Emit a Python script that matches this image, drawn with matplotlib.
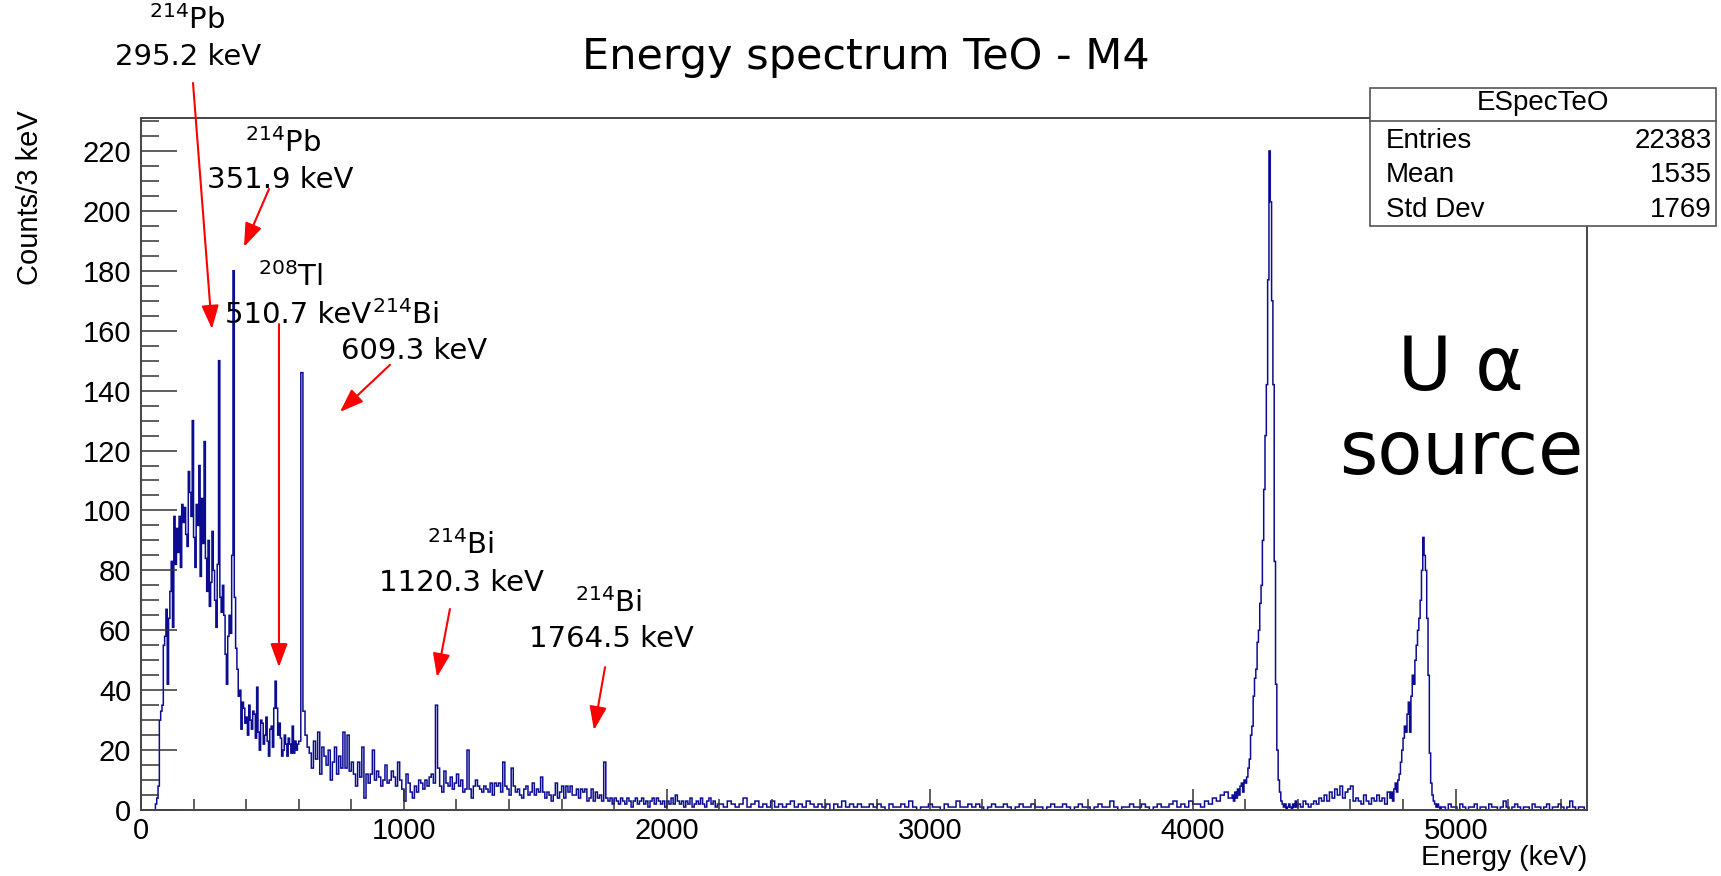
import numpy as np
import matplotlib
matplotlib.use("Agg")
import matplotlib.pyplot as plt
from matplotlib.patches import Rectangle
from matplotlib.lines import Line2D
from matplotlib.ticker import MultipleLocator

plt.rcParams['font.family'] = ['Liberation Sans', 'DejaVu Sans']

# Counts per 3 keV. Each block covers an energy range
# (keV) split into equal bins, finer where the spectrum changes quickly.
counts_0_600 = [
    0, 0, 0, 0, 0, 0, 0, 0, 0, 0, 0, 2, 4, 8, 30, 33, 35, 55, 58, 67,
    42, 64, 73, 83, 61, 98, 82, 94, 86, 98, 81, 102, 96, 101, 92, 88, 113, 106, 98, 130,
    91, 81, 102, 95, 115, 78, 104, 89, 123, 84, 73, 90, 68, 76, 93, 80, 70, 61, 82, 150,
    71, 66, 75, 65, 52, 42, 58, 65, 59, 85, 180, 71, 54, 47, 38, 40, 27, 36, 34, 29,
    31, 25, 35, 30, 27, 33, 32, 24, 41, 26, 20, 30, 29, 22, 25, 31, 23, 18, 27, 28,
    21, 34, 43, 34, 25, 29, 24, 18, 20, 25, 22, 18, 24, 22, 19, 28, 19, 23, 20, 22,
]
counts_600_2200 = [
    23, 146, 33, 25, 21, 19, 14, 23, 17, 26, 12, 21, 18, 15, 20, 10, 16, 21, 12, 18,
    14, 26, 14, 25, 13, 16, 12, 8, 16, 11, 21, 4, 12, 9, 12, 20, 10, 13, 11, 8,
    10, 15, 9, 10, 13, 11, 8, 16, 10, 7, 3, 12, 9, 6, 4, 8, 6, 10, 9, 7,
    10, 8, 11, 12, 9, 35, 14, 8, 6, 13, 9, 8, 11, 7, 9, 12, 8, 10, 6, 7,
    20, 7, 4, 8, 10, 8, 7, 6, 8, 7, 6, 9, 5, 9, 8, 9, 6, 16, 8, 7,
    5, 14, 8, 6, 7, 5, 4, 7, 8, 5, 6, 9, 5, 7, 6, 11, 6, 4, 6, 5,
    3, 5, 9, 4, 6, 8, 4, 8, 6, 8, 5, 5, 7, 4, 7, 6, 7, 3, 4, 7,
    3, 6, 4, 5, 3, 16, 4, 3, 4, 2, 4, 3, 2, 4, 3, 2, 4, 3, 1, 3,
    4, 2, 3, 4, 2, 3, 1, 3, 4, 2, 4, 3, 2, 3, 1, 3, 2, 4, 2, 5,
    3, 2, 3, 1, 3, 2, 4, 1, 2, 3, 2, 4, 2, 1, 3, 4, 2, 3, 1, 2,
]
counts_2200_4150 = [
    2, 1, 3, 2, 1, 2, 4, 1, 2, 3, 1, 2, 1,
    3, 1, 2, 1, 2, 3, 1, 2, 1, 3, 2, 1, 2,
    1, 2, 0, 2, 1, 3, 1, 2, 1, 2, 1, 1, 2,
    1, 2, 1, 0, 2, 1, 1, 2, 1, 3, 1, 0, 1,
    1, 2, 1, 1, 0, 2, 1, 1, 3, 1, 1, 2, 1,
    2, 1, 0, 1, 2, 1, 1, 2, 1, 0, 1, 2, 1,
    1, 2, 1, 1, 0, 1, 2, 1, 1, 2, 1, 0, 1,
    2, 1, 1, 0, 1, 2, 1, 1, 3, 1, 0, 1, 1,
    2, 1, 1, 2, 1, 0, 1, 2, 1, 1, 2, 3, 1,
    2, 1, 3, 2, 2, 1, 3, 2, 4, 3, 5, 6, 4,
]
counts_4150_4400 = [
    5, 3, 6, 4, 7, 5, 8, 9, 6, 10,
    9, 11, 14, 17, 25, 28, 38, 44, 47, 56,
    60, 69, 75, 90, 107, 125, 142, 177, 220, 203,
    170, 142, 83, 42, 20, 10, 6, 3, 2, 1,
    2, 0, 1, 2, 1, 0, 2, 1, 3, 1,
]
counts_4400_4750 = [
    2, 1, 3, 2, 1, 2, 3, 2, 4, 3,
    5, 3, 6, 4, 7, 5, 8, 4, 6, 7,
    8, 3, 4, 3, 2, 5, 3, 2, 4, 3,
    5, 3, 4, 2, 6,
]
counts_4750_4950 = [
    4, 6, 3, 7, 9, 6, 10, 12, 16, 20,
    24, 28, 26, 32, 36, 26, 38, 45, 42, 50,
    55, 60, 64, 70, 80, 91, 85, 80, 64, 45,
    19, 9, 5, 3, 2, 1, 2, 1, 0, 1,
]
counts_4950_5500 = [
    1, 0, 2, 1, 1, 0, 2, 1, 0, 1, 1, 2, 0, 1, 1, 0, 2, 1, 1, 0,
    1, 3, 1, 0, 1, 2, 1, 0, 1, 1, 0, 2, 1, 1, 0, 1, 2, 0, 1, 1,
    2, 1, 0, 1, 3, 1, 0, 1, 1, 0,
]
blocks = [
    (0, 600, counts_0_600),
    (600, 2200, counts_600_2200),
    (2200, 4150, counts_2200_4150),
    (4150, 4400, counts_4150_4400),
    (4400, 4750, counts_4400_4750),
    (4750, 4950, counts_4750_4950),
    (4950, 5500, counts_4950_5500),
]

stat_names = ["Entries", "Mean", "Std Dev"]
stat_values = ["22383", "1535", "1769"]

isotopes = ["$^{214}$Pb", "$^{214}$Pb", "$^{208}$Tl", "$^{214}$Bi", "$^{214}$Bi", "$^{214}$Bi"]
line_labels = ["295.2 keV", "351.9 keV", "510.7 keV", "609.3 keV", "1120.3 keV", "1764.5 keV"]

# build the bin edges of every block and join them
edges = [0.0]
counts = []
for lo, hi, vals in blocks:
    edges.extend(np.linspace(lo, hi, len(vals) + 1)[1:])
    counts.extend(vals)

fig = plt.figure(figsize=(17.21, 8.76), dpi=100)
ax = fig.add_axes([0.0819, 0.0753, 0.8403, 0.79])

ax.stairs(counts, edges, color="#0c0c92", lw=1.1)
ax.set_xlim(0, 5500)
ax.set_ylim(0, 231)

ax.xaxis.set_major_locator(MultipleLocator(1000))
ax.xaxis.set_minor_locator(MultipleLocator(200))
ax.yaxis.set_major_locator(MultipleLocator(20))
ax.yaxis.set_minor_locator(MultipleLocator(5))
ax.tick_params(axis="y", which="major", direction="in", length=26, width=1.1,
               pad=7, labelsize=21, color="#333333")
ax.tick_params(axis="y", which="minor", direction="in", length=13, width=1.1, color="#333333")
ax.tick_params(axis="x", which="major", direction="in", length=15, width=1.1,
               pad=5, labelsize=21, color="#333333")
ax.tick_params(axis="x", which="minor", direction="in", length=8, width=1.1, color="#333333")
for sp in ax.spines.values():
    sp.set_color("#444444")
    sp.set_linewidth(1.4)

fig.text(0.5029, 0.935, "Energy spectrum TeO - M4", ha="center", va="center",
         fontsize=31, family="DejaVu Sans")
fig.text(0.0174, 0.874, "Counts/3 keV", rotation=90, ha="center", va="top", fontsize=21)
fig.text(0.9222, 0.021, "Energy (keV)", ha="right", va="center", fontsize=20.5)

# stats box (ROOT style)
bx0, bx1, by0, by1 = 0.796, 0.997, 0.742, 0.8995
fig.add_artist(Rectangle((bx0, by0), bx1 - bx0, by1 - by0, transform=fig.transFigure,
                         facecolor="white", edgecolor="#555555", lw=1.2, zorder=5))
fig.add_artist(Line2D([bx0, bx1], [0.8619, 0.8619], transform=fig.transFigure,
                      color="#555555", lw=1.2, zorder=6))
fig.text((bx0 + bx1) / 2, 0.882, "ESpecTeO", ha="center", va="center", fontsize=20, zorder=7)
for i, (name, val) in enumerate(zip(stat_names, stat_values)):
    yy = 0.839 - i * 0.0392
    fig.text(0.8054, yy, name, ha="left", va="center", fontsize=20, zorder=7)
    fig.text(0.9948, yy, val, ha="right", va="center", fontsize=20, zorder=7)

# peak annotations: isotope, energy label, arrow tail and tip (data coords)
iso_pos = [(175, 263.7), (540, 222.6), (570, 177.9), (1008, 165.2), (1217, 88.5), (1780, 69.1)]
lab_pos = [(179, 251.4), (529, 210.3), (597, 165.2), (1038, 153.2), (1217, 75.8), (1788, 57.1)]
tails = [(198, 242.7), (487, 207.3), (525, 162.2), (947, 148.6), (1175, 67.1), (1765, 47.7)]
tips = [(270, 160.6), (392, 188.0), (525, 47.7), (757, 132.9), (1126, 44.4), (1723, 26.7)]

for iso, lab, p_iso, p_lab, t0, t1 in zip(isotopes, line_labels, iso_pos, lab_pos, tails, tips):
    ax.text(*p_iso, iso, ha="center", va="center", fontsize=21, family="DejaVu Sans", clip_on=False)
    ax.text(*p_lab, lab, ha="center", va="center", fontsize=21, family="DejaVu Sans", clip_on=False)
    ax.annotate("", xy=t1, xytext=t0, annotation_clip=False,
                arrowprops=dict(arrowstyle="-|>,head_length=0.6,head_width=0.22",
                                mutation_scale=24, color="red", lw=1.5,
                                shrinkA=0, shrinkB=0))

fig.text(0.8489, 0.5548, "U α", ha="center", va="baseline", fontsize=53, family="DejaVu Sans")
fig.text(0.8489, 0.4589, "source", ha="center", va="baseline", fontsize=53, family="DejaVu Sans")

fig.savefig("out.png", dpi=100)
